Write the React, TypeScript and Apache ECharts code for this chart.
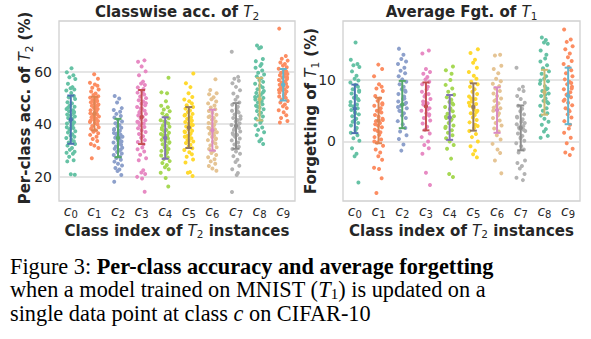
import React, { useEffect, useRef } from 'react';
import * as echarts from 'echarts';

// ---------- data ----------
const CLASSES = ['c0', 'c1', 'c2', 'c3', 'c4', 'c5', 'c6', 'c7', 'c8', 'c9'];
const ACC_TICKS = [20, 40, 60];
const FGT_TICKS = [0, 10];

const ACC_MEAN = [41.7, 44.0, 34.7, 42.7, 34.7, 38.7, 37.7, 39.3, 49.5, 55.0];
const ACC_SD = [9.2, 6.4, 7.3, 10.3, 7.9, 7.8, 7.8, 8.7, 8.1, 6.0];
const FGT_MEAN = [5.3, 3.4, 6.0, 5.7, 3.9, 5.6, 5.1, 2.2, 8.0, 7.4];
const FGT_SD = [3.95, 3.7, 3.85, 3.9, 3.65, 3.85, 3.7, 3.65, 3.65, 4.6];

const ACC_C0 = [61.3, 59.8, 58.6, 57.9, 57.2, 55.4, 54.1, 53.7, 53.2, 52.8, 51.9, 50.7, 50.2, 49.6, 48.3, 47.9, 47.1, 46.6, 45.8, 45.3, 44.9, 44.2, 43.7, 43.4, 42.9, 42.3, 41.8, 41.1, 40.7, 40.2, 39.9, 39.4, 38.8, 38.5, 37.9, 37.3, 36.8, 36.1, 35.6, 35.2, 34.7, 34.1, 33.5, 33.0, 32.4, 31.8, 30.9, 30.2, 29.5, 29.1, 28.7, 27.6, 26.2, 25.8, 20.9, 20.7, 46.3, 42.0, 38.2, 44.6];
const ACC_C1 = [59.0, 57.3, 55.8, 55.1, 54.6, 53.9, 53.2, 52.4, 51.7, 51.1, 50.6, 50.1, 49.7, 49.2, 48.8, 48.3, 47.9, 47.5, 47.0, 46.6, 46.2, 45.8, 45.3, 44.9, 44.6, 44.1, 43.8, 43.3, 42.9, 42.6, 42.1, 41.7, 41.2, 40.8, 40.4, 39.9, 39.3, 38.8, 38.2, 37.7, 37.1, 36.5, 35.9, 35.2, 34.3, 33.6, 32.4, 31.8, 30.9, 27.0, 45.5, 43.0, 47.2, 41.4, 49.0];
const ACC_C2 = [50.7, 49.8, 48.2, 46.1, 45.4, 44.7, 43.9, 43.1, 42.5, 41.6, 41.0, 40.3, 39.7, 39.2, 38.6, 38.1, 37.5, 37.2, 36.6, 36.0, 35.7, 35.2, 34.8, 34.3, 33.9, 33.4, 33.0, 32.6, 32.1, 31.5, 31.0, 30.6, 29.9, 29.4, 28.8, 28.2, 27.6, 27.1, 26.4, 25.7, 24.9, 24.2, 23.3, 22.7, 22.1, 20.6, 18.0, 35.5, 33.6, 37.8, 30.2, 36.3];
const ACC_C3 = [64.3, 63.8, 62.0, 60.1, 58.6, 56.2, 55.5, 54.9, 54.0, 53.4, 52.7, 52.0, 51.3, 50.5, 49.9, 49.1, 48.6, 47.8, 47.2, 46.5, 45.9, 45.1, 44.6, 43.9, 43.3, 42.8, 42.1, 41.5, 40.9, 40.2, 39.6, 38.9, 38.4, 37.7, 37.0, 36.2, 35.4, 34.8, 33.9, 33.2, 32.3, 31.1, 30.4, 29.6, 28.3, 27.0, 26.2, 22.4, 21.6, 21.0, 19.9, 19.3, 14.2, 44.2, 48.0, 40.6, 52.3, 46.0];
const ACC_C4 = [57.7, 52.1, 51.8, 48.7, 47.0, 46.4, 45.6, 44.9, 44.1, 43.5, 42.8, 42.2, 41.5, 40.9, 40.2, 39.6, 39.0, 38.5, 37.8, 37.3, 36.7, 36.2, 35.6, 35.1, 34.5, 34.0, 33.4, 32.9, 32.3, 31.7, 31.1, 30.5, 29.8, 29.2, 28.6, 28.0, 27.3, 26.7, 25.9, 25.2, 24.4, 23.6, 22.8, 21.5, 19.5, 16.2, 35.8, 33.1, 38.0, 30.0, 41.0];
const ACC_C5 = [59.3, 55.6, 54.1, 51.8, 50.3, 49.4, 48.7, 47.9, 47.2, 46.5, 45.9, 45.2, 44.6, 43.9, 43.3, 42.6, 42.0, 41.5, 40.8, 40.2, 39.7, 39.1, 38.6, 38.0, 37.5, 36.9, 36.4, 35.8, 35.2, 34.6, 34.0, 33.4, 32.8, 32.1, 31.5, 30.8, 30.1, 29.3, 28.5, 27.6, 26.5, 25.4, 21.7, 21.5, 20.2, 37.2, 39.8, 35.5, 41.2, 43.6, 33.7];
const ACC_C6 = [57.1, 53.0, 51.8, 51.4, 50.2, 49.5, 48.6, 47.9, 47.1, 46.3, 45.7, 45.0, 44.3, 43.6, 43.0, 42.3, 41.7, 41.0, 40.4, 39.8, 39.2, 38.6, 38.0, 37.5, 36.9, 36.3, 35.7, 35.1, 34.5, 33.9, 33.2, 32.6, 31.9, 31.2, 30.5, 29.8, 29.0, 28.2, 27.4, 26.6, 25.8, 24.9, 24.0, 23.1, 22.2, 38.3, 36.6, 40.1, 34.2, 42.7];
const ACC_C7 = [67.6, 58.0, 57.3, 56.5, 55.6, 54.2, 52.9, 51.7, 50.4, 49.3, 48.2, 47.4, 46.6, 45.9, 45.1, 44.4, 43.7, 43.0, 42.3, 41.6, 41.0, 40.3, 39.7, 39.1, 38.5, 37.8, 37.2, 36.5, 35.9, 35.2, 34.5, 33.8, 33.0, 32.2, 31.4, 30.5, 29.6, 28.7, 27.8, 26.4, 25.6, 24.1, 22.8, 21.4, 20.6, 14.1, 40.0, 38.2, 42.0, 36.0, 44.8];
const ACC_C8 = [70.0, 69.3, 68.9, 64.8, 64.0, 62.9, 62.2, 61.5, 60.4, 59.6, 58.9, 58.2, 57.5, 56.8, 56.1, 55.4, 54.7, 54.0, 53.3, 52.6, 51.9, 51.2, 50.6, 50.0, 49.4, 48.8, 48.2, 47.6, 47.0, 46.3, 45.7, 45.0, 44.3, 43.6, 42.9, 42.1, 41.3, 40.5, 39.6, 38.7, 37.8, 36.9, 35.8, 34.2, 33.5, 32.4, 50.3, 48.5, 52.0, 46.6];
const ACC_C9 = [76.4, 66.0, 64.9, 64.2, 63.5, 62.9, 62.3, 61.7, 61.1, 60.6, 60.1, 59.6, 59.1, 58.6, 58.1, 57.7, 57.2, 56.8, 56.3, 55.9, 55.4, 55.0, 54.6, 54.2, 53.7, 53.3, 52.9, 52.4, 52.0, 51.5, 51.0, 50.5, 50.0, 49.4, 48.8, 48.2, 47.5, 46.8, 46.1, 45.3, 44.5, 43.4, 42.3, 41.2, 40.6, 55.6, 54.4, 57.9, 53.0, 59.3];

const FGT_C0 = [16.1, 13.3, 12.6, 12.4, 12.1, 11.4, 10.7, 10.2, 9.9, 9.6, 9.2, 8.9, 8.5, 8.1, 7.8, 7.4, 7.1, 6.7, 6.4, 6.0, 5.7, 5.4, 5.1, 4.8, 4.4, 4.1, 3.7, 3.4, 3.0, 2.6, 2.2, 1.8, 1.4, 1.0, 0.5, 0.1, -1.1, -2.0, -2.4, -6.7, 5.9, 4.6, 6.9, 3.2, 8.3];
const FGT_C1 = [12.5, 11.8, 10.6, 9.3, 8.9, 8.6, 8.2, 7.4, 7.0, 6.6, 6.2, 5.8, 5.4, 5.0, 4.7, 4.3, 4.0, 3.7, 3.3, 3.0, 2.6, 2.3, 1.9, 1.5, 1.1, 0.7, 0.3, -0.2, -0.7, -1.3, -1.8, -2.4, -3.0, -4.3, -4.5, -6.0, -8.4, 3.5, 2.8, 4.9, 1.7, 6.0, 0.0];
const FGT_C2 = [15.1, 14.1, 13.4, 13.0, 12.6, 12.0, 11.5, 11.1, 10.6, 10.1, 9.7, 9.3, 8.9, 8.5, 8.1, 7.7, 7.3, 6.9, 6.5, 6.1, 5.8, 5.4, 5.0, 4.6, 4.2, 3.8, 3.3, 2.8, 2.2, 1.6, 1.0, 0.4, -0.5, -1.5, 6.3, 5.6, 7.0, 4.9, 8.3];
const FGT_C3 = [14.8, 14.3, 11.8, 11.3, 11.0, 10.5, 10.1, 9.7, 9.3, 8.9, 8.5, 8.1, 7.7, 7.3, 6.9, 6.5, 6.2, 5.8, 5.4, 5.0, 4.6, 4.2, 3.8, 3.4, 2.9, 2.4, 1.9, 1.3, 0.7, 0.0, -0.6, -1.1, -2.0, -5.1, -7.1, 6.0, 5.2, 7.6, 4.4];
const FGT_C4 = [12.2, 11.6, 11.0, 10.0, 9.2, 8.6, 8.1, 7.6, 7.2, 6.8, 6.4, 6.0, 5.6, 5.2, 4.9, 4.5, 4.1, 3.8, 3.4, 3.0, 2.6, 2.2, 1.8, 1.4, 1.0, 0.5, 0.0, -0.6, -1.2, -2.8, -5.3, -5.8, 4.0, 3.6, 5.4, 2.4, 6.2];
const FGT_C5 = [15.0, 14.4, 13.3, 12.8, 12.0, 11.3, 10.7, 10.2, 9.7, 9.3, 8.9, 8.5, 8.1, 7.7, 7.3, 6.9, 6.5, 6.1, 5.8, 5.4, 5.0, 4.6, 4.3, 3.9, 3.5, 3.1, 2.7, 2.2, 1.7, 1.2, 0.7, 0.0, -0.8, -1.5, -2.1, -2.6, 6.3, 5.2, 4.8, 7.0, 2.5];
const FGT_C6 = [14.1, 14.0, 12.3, 11.8, 11.1, 10.2, 9.8, 9.4, 9.0, 8.6, 8.2, 7.8, 7.4, 7.0, 6.6, 6.2, 5.8, 5.4, 5.0, 4.6, 4.2, 3.8, 3.4, 3.0, 2.6, 2.1, 1.6, 1.0, 0.3, -0.4, -1.3, -1.9, -3.1, -5.2, 5.5, 4.4, 6.8];
const FGT_C7 = [12.0, 8.9, 8.5, 8.2, 7.4, 6.9, 6.3, 5.8, 5.3, 4.9, 4.4, 4.0, 3.6, 3.2, 2.8, 2.5, 2.1, 1.7, 1.3, 0.9, 0.5, 0.1, -0.3, -0.8, -1.3, -1.8, -3.1, -3.5, -4.0, -4.4, -5.3, -5.9, -6.3, 2.3, 1.9, 3.9, 0.7, 3.0];
const FGT_C8 = [16.9, 16.5, 16.1, 15.9, 14.8, 14.1, 13.5, 13.0, 12.4, 11.9, 11.4, 11.0, 10.6, 10.2, 9.8, 9.4, 9.0, 8.6, 8.2, 7.8, 7.4, 7.0, 6.6, 6.2, 5.8, 5.4, 5.0, 4.6, 4.2, 3.7, 3.2, 2.7, 2.0, 1.6, 0.9, 0.6, 8.5, 7.6, 9.9, 6.4];
const FGT_C9 = [18.2, 16.6, 16.2, 15.5, 15.0, 14.3, 13.7, 13.1, 12.6, 12.1, 11.6, 11.1, 10.6, 10.1, 9.7, 9.3, 8.9, 8.5, 8.0, 7.6, 7.2, 6.8, 6.3, 5.9, 5.4, 4.9, 4.4, 3.9, 3.3, 2.7, 2.1, 1.4, 0.6, -0.3, -1.2, -1.8, -2.2, 7.7, 8.6, 6.6, 5.1, 9.5];

const ACC_POINTS = [ACC_C0, ACC_C1, ACC_C2, ACC_C3, ACC_C4, ACC_C5, ACC_C6, ACC_C7, ACC_C8, ACC_C9];
const FGT_POINTS = [FGT_C0, FGT_C1, FGT_C2, FGT_C3, FGT_C4, FGT_C5, FGT_C6, FGT_C7, FGT_C8, FGT_C9];

// horizontal strip jitter (fraction of a category), hand-set
const JITTER = [0.03, -0.17, 0.11, -0.06, 0.19, -0.12, 0.07, -0.01, 0.15, -0.19, 0.02, 0.13, -0.09, 0.18, -0.14, 0.05, -0.04, 0.16, -0.18, 0.09, -0.07, 0.12, -0.15, 0.0, 0.17, -0.11, 0.06, -0.02, 0.14, -0.16, 0.08];

// ---------- styles ----------
const POINT_COLORS = ['#66c2a5', '#fc8d62', '#8da0cb', '#e78ac3', '#a6d854', '#ffd92f', '#e5c494', '#b3b3b3', '#66c2a5', '#fc8d62'];
const ERR_COLORS = ['#4c72b0', '#dd8452', '#55a868', '#c44e52', '#8172b3', '#937860', '#da8bc3', '#8c8c8c', '#ccb974', '#64b5cd'];
const INK = '#262626';
const SANS = "'DejaVu Sans', sans-serif";
const SERIF = "'Liberation Serif', 'Times New Roman', serif";

const GRIDS = [
  { left: 59, top: 21, width: 236, height: 180 },
  { left: 343, top: 21, width: 237, height: 180 },
];

const chartRich = {
  b: { fontFamily: SANS, fontWeight: 'bold', fontSize: 15, lineHeight: 16, fill: INK },
  ti: { fontFamily: SANS, fontStyle: 'italic', fontSize: 15, lineHeight: 16, fill: INK },
  sub: { fontFamily: SANS, fontSize: 10.5, lineHeight: 11, fill: INK, padding: [7, 0, 0, 0] },
};
const CAP = 22.3;
const capRich = {
  r: { fontFamily: SERIF, fontSize: CAP, lineHeight: 23, fill: '#000' },
  bd: { fontFamily: SERIF, fontSize: CAP, lineHeight: 23, fontWeight: 'bold', fill: '#000' },
  it: { fontFamily: SERIF, fontSize: CAP, lineHeight: 23, fontStyle: 'italic', fill: '#000' },
  sub: { fontFamily: SERIF, fontSize: 15, lineHeight: 13, fill: '#000', padding: [8, 0, 0, 0] },
};

function chartText(text: string, x: number, y: number, rotation = 0) {
  return {
    type: 'text', x, y, rotation, silent: true,
    style: { text, rich: chartRich, align: 'center', verticalAlign: 'middle' },
  };
}
function capText(text: string, y: number) {
  return {
    type: 'text', x: 10, y, silent: true,
    style: { text, rich: capRich, align: 'left', verticalAlign: 'middle' },
  };
}

function stripSeries(points: number[][], g: number) {
  return points.map((vals, i) => ({
    type: 'scatter',
    xAxisIndex: g * 2 + 1,
    yAxisIndex: g,
    symbol: 'circle',
    symbolSize: 4,
    silent: true,
    z: 2,
    itemStyle: { color: POINT_COLORS[i], opacity: 1 },
    data: vals.map((v, j) => [i + JITTER[(j + 7 * i) % JITTER.length], v]),
  }));
}

function errSeries(mean: number[], sd: number[], g: number) {
  return {
    type: 'custom',
    xAxisIndex: g * 2 + 1,
    yAxisIndex: g,
    silent: true,
    z: 5,
    clip: false,
    encode: { x: 0, y: [1, 2, 3] },
    data: mean.map((m, i) => [i, m, m - sd[i], m + sd[i]]),
    renderItem: (params: any, api: any) => {
      const x = api.value(0);
      const mid = api.coord([x, api.value(1)]);
      const lo = api.coord([x, api.value(2)]);
      const hi = api.coord([x, api.value(3)]);
      const c = ERR_COLORS[params.dataIndex];
      const st = { stroke: c, lineWidth: 2 };
      return {
        type: 'group',
        children: [
          { type: 'line', shape: { x1: hi[0], y1: hi[1], x2: lo[0], y2: lo[1] }, style: st },
          { type: 'line', shape: { x1: hi[0] - 3.5, y1: hi[1], x2: hi[0] + 3.5, y2: hi[1] }, style: st },
          { type: 'line', shape: { x1: lo[0] - 3.5, y1: lo[1], x2: lo[0] + 3.5, y2: lo[1] }, style: st },
          { type: 'circle', shape: { cx: mid[0], cy: mid[1], r: 2.2 }, style: { fill: c } },
        ],
      };
    },
  };
}

function catAxis(g: number) {
  return {
    type: 'category', gridIndex: g, data: CLASSES, boundaryGap: true,
    axisLine: { show: false }, axisTick: { show: false }, splitLine: { show: false },
    axisLabel: {
      margin: 3,
      interval: 0,
      hideOverlap: false,
      formatter: (v: string) => `{c|c}{s|${v.slice(1)}}`,
      rich: {
        c: { fontFamily: SANS, fontStyle: 'italic', fontSize: 14, lineHeight: 14, color: INK },
        s: { fontFamily: SANS, fontSize: 10, lineHeight: 10, color: INK, padding: [6, 0, 0, 0] },
      },
    },
  };
}
function valXAxis(g: number) {
  return { type: 'value', gridIndex: g, min: -0.5, max: 9.5, show: false };
}
function yAxis(g: number, min: number, max: number, ticks: number[]) {
  return {
    type: 'value', gridIndex: g, min, max,
    axisLine: { show: false },
    axisTick: { show: false, customValues: ticks },
    axisLabel: { customValues: ticks, fontFamily: SANS, fontSize: 14, color: INK, margin: 7 },
    splitLine: { show: true, lineStyle: { color: '#dcdcdc', width: 1.5 } },
  };
}

export default function App() {
  const ref = useRef<HTMLDivElement>(null);
  useEffect(() => {
    if (!ref.current) return;
    const chart = echarts.init(ref.current, null, { renderer: 'svg' });
    chart.setOption({
      animation: false,
      backgroundColor: '#ffffff',
      grid: GRIDS.map((g) => ({ ...g, show: true, borderColor: '#d0d0d0', borderWidth: 1.3, backgroundColor: 'transparent' })),
      xAxis: [catAxis(0), valXAxis(0), catAxis(1), valXAxis(1)],
      yAxis: [yAxis(0, 10.7, 79.3, ACC_TICKS), yAxis(1, -9.7, 19.6, FGT_TICKS)],
      series: [
        ...stripSeries(ACC_POINTS, 0),
        errSeries(ACC_MEAN, ACC_SD, 0),
        ...stripSeries(FGT_POINTS, 1),
        errSeries(FGT_MEAN, FGT_SD, 1),
      ],
      graphic: [
        chartText('{b|Classwise acc. of }{ti|T}{sub|2}', 177, 12),
        chartText('{b|Average Fgt. of }{ti|T}{sub|1}', 461.5, 12),
        chartText('{b|Class index of }{ti|T}{sub|2}{b| instances}', 177, 230.5),
        chartText('{b|Class index of }{ti|T}{sub|2}{b| instances}', 461.5, 230.5),
        chartText('{b|Per-class acc. of }{ti|T}{sub|2}{b| (%)}', 25, 108, Math.PI / 2),
        chartText('{b|Forgetting of }{ti|T}{sub|1}{b| (%)}', 311, 111, Math.PI / 2),
        capText('{r|Figure 3: }{bd|Per-class accuracy and average forgetting}', 266),
        capText('{r|when a model trained on MNIST (}{it|T}{sub|1}{r|) is updated on a}', 289.5),
        capText('{r|single data point at class }{it|c}{r| on CIFAR-10}', 313),
      ],
    });
    return () => chart.dispose();
  }, []);
  return <div ref={ref} style={{ position: 'absolute', left: 0, top: 0, width: 591, height: 339 }} />;
}
